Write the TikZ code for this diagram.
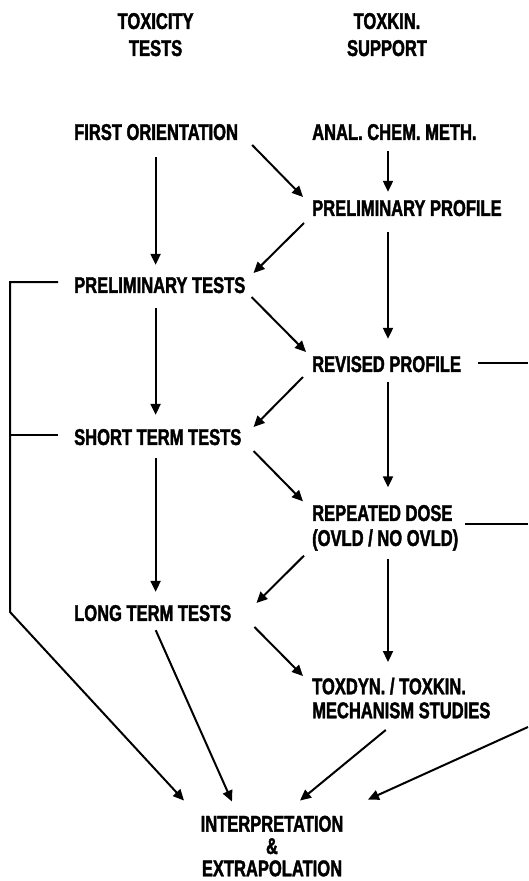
\documentclass[tikz,border=0pt]{standalone}
\usepackage{fontspec}
\setmainfont{Liberation Sans}[FakeStretch=0.725,BoldFeatures={FakeBold=1.7}]
\usetikzlibrary{arrows.meta,calc}
\begin{document}
\begin{tikzpicture}[x=1pt,y=-1pt,
  lbl/.style={inner sep=0pt,font=\fontsize{22.8}{25}\selectfont\bfseries,text depth=0pt},
  arr/.style={line width=2pt,-{Triangle[length=11pt,width=10pt]}},
  ln/.style={line width=2pt}]
\useasboundingbox (0,0) rectangle (528,881);
% headers
\node[lbl,align=center,font=\fontsize{22.8}{27}\selectfont\bfseries] (tt) at (155.6,34.5) {TOXICITY\\TESTS};
\node[lbl,align=center,font=\fontsize{22.8}{27}\selectfont\bfseries] (ts) at (387,34.5) {TOXKIN.\\SUPPORT};
% left column
\node[lbl,anchor=west] (fo) at (74,132) {FIRST ORIENTATION};
\node[lbl,anchor=west] (pt) at (74,285) {PRELIMINARY TESTS};
\node[lbl,anchor=west] (st) at (74,437) {SHORT TERM TESTS};
\node[lbl,anchor=west] (lt) at (74,613) {LONG TERM TESTS};
% right column
\node[lbl,anchor=west] (ac) at (312,132) {ANAL. CHEM. METH.};
\node[lbl,anchor=west] (pp) at (312,208) {PRELIMINARY PROFILE};
\node[lbl,anchor=west] (rp) at (312,364) {REVISED PROFILE};
\node[lbl,anchor=west,align=left] (rd) at (312,525.5) {REPEATED DOSE\\(OVLD / NO OVLD)};
\node[lbl,anchor=west,align=left,font=\fontsize{22.8}{24}\selectfont\bfseries] (tx) at (312,698) {TOXDYN. / TOXKIN.\\MECHANISM STUDIES};
% bottom
\node[lbl,align=center,font=\fontsize{22.8}{22.3}\selectfont\bfseries] (ie) at (272,846) {INTERPRETATION\\\&\\EXTRAPOLATION};
% column guides and edge coordinates
\coordinate (lc) at (155.6,0);
\coordinate (rc) at (388,0);
\coordinate (lb) at (10,0);
\coordinate (re1) at (528,363);
\coordinate (re2) at (528,524);
\coordinate (re3) at (528,727);
% vertical arrows
\draw[arr] ($(fo.south -| lc)+(0,17)$) -- ($(pt.north -| lc)+(0,-12)$);
\draw[arr] ($(pt.south -| lc)+(0,15)$) -- ($(st.north -| lc)+(0,-14)$);
\draw[arr] ($(st.south -| lc)+(0,13)$) -- ($(lt.north -| lc)+(0,-13)$);
\draw[arr] ($(ac.south -| rc)+(0,11)$) -- ($(pp.north -| rc)+(0,-8)$);
\draw[arr] ($(pp.south -| rc)+(0,16)$) -- ($(rp.north -| rc)+(0,-17)$);
\draw[arr] ($(rp.south -| rc)+(0,10)$) -- ($(rd.north -| rc)+(0,-17.5)$);
\draw[arr] ($(rd.south -| rc)+(0,12.5)$) -- ($(tx.north -| rc)+(0,-15.5)$);
% diagonal arrows
\draw[arr] ($(fo.east)+(14,13)$) -- ($(pp.west)+(-9,-11)$);
\draw[arr] ($(pp.west)+(-8,15)$) -- ($(pt.east)+(8,-12)$);
\draw[arr] ($(pt.east)+(6,12)$) -- ($(rp.west)+(-6,-12)$);
\draw[arr] ($(rp.west)+(-9,13)$) -- ($(st.east)+(12,-10)$);
\draw[arr] ($(st.east)+(12,14)$) -- ($(rd.north west)+(-9,-3.5)$);
\draw[arr] ($(rd.south west)+(-8,9.5)$) -- ($(lt.east)+(25,-10)$);
\draw[arr] ($(lt.east)+(23,14)$) -- ($(tx.north west)+(-9,-1.5)$);
% into interpretation
\draw[arr] ($(lt.south)+(3,9)$) -- ($(ie.north)+(-40,-14)$);
\draw[arr] ($(tx.south)+(-15.5,11.5)$) -- ($(ie.north)+(28,-15)$);
\draw[arr] (re3) -- ($(ie.north)+(96,-16)$);
% left bracket
\draw[arr,line join=miter] ($(pt.west)+(-16,-3)$) -- ($(pt.west -| lb)+(0,-3)$) -- ($(lt.west -| lb)+(0,-1)$) -- ($(ie.north)+(-88,-15)$);
\draw[ln] ($(st.west)+(-16,-2)$) -- ($(st.west -| lb)+(0,-2)$);
% right lines
\draw[ln] ($(rp.east)+(17,-1)$) -- (re1);
\draw[ln] ($(rd.east)+(7,-1.5)$) -- (re2);
\end{tikzpicture}
\end{document}
